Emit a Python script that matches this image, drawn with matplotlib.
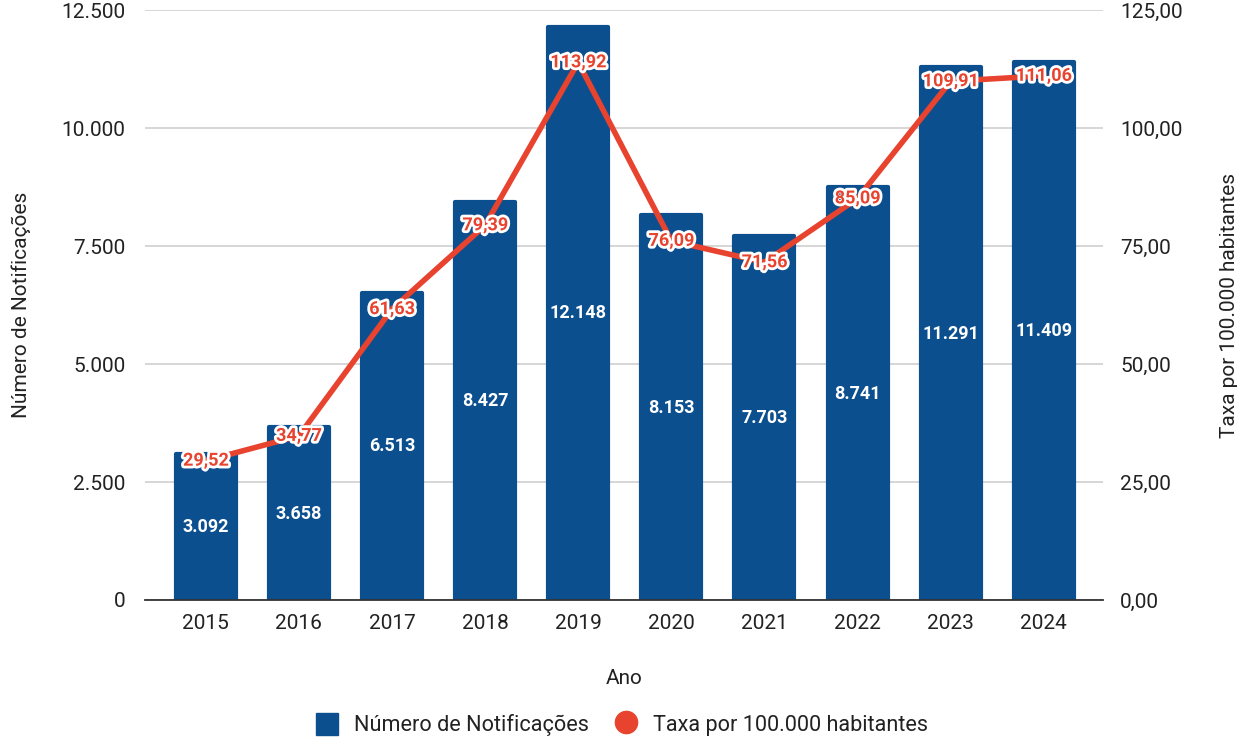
import matplotlib
matplotlib.use("Agg")
import matplotlib.pyplot as plt
import matplotlib.patheffects as pe
from matplotlib.ticker import FuncFormatter
from matplotlib.lines import Line2D
from matplotlib.patches import Patch

anos = ["2015", "2016", "2017", "2018", "2019", "2020", "2021", "2022", "2023", "2024"]
notificacoes = [3092, 3658, 6513, 8427, 12148, 8153, 7703, 8741, 11291, 11409]
taxa = [29.52, 34.77, 61.63, 79.39, 113.92, 76.09, 71.56, 85.09, 109.91, 111.06]

BLUE = "#0c4f8f"
RED = "#e8432f"

plt.rcParams['font.family'] = ['Roboto', 'DejaVu Sans']

fig = plt.figure(figsize=(12.37, 7.38), dpi=100)
ax = fig.add_axes([0.117, 0.187, 0.775, 0.7994])
ax2 = ax.twinx()

x = list(range(len(anos)))
bars = ax.bar(x, notificacoes, width=0.645, color=BLUE, edgecolor=BLUE,
              linewidth=3, joinstyle='round', zorder=2)

def fmt_int(v):
    return f"{int(round(v)):,}".replace(",", ".")

for xi, v in zip(x, notificacoes):
    ax.text(xi, v / 2, fmt_int(v), ha='center', va='center', color='white',
            fontsize=13, fontweight='bold', zorder=3)

ax.set_ylim(0, 12500)
ax.set_xlim(-0.655, 9.64)
ax.set_yticks([0, 2500, 5000, 7500, 10000, 12500])
ax.yaxis.set_major_formatter(FuncFormatter(lambda v, p: fmt_int(v)))
ax.grid(axis='y', color='#d0d0d0', linewidth=1.2, zorder=0)
ax.set_axisbelow(True)
ax.set_xticks(x)
ax.set_xticklabels(anos)
ax.tick_params(axis='both', length=0, labelsize=15, colors='#222222', pad=10)
ax.tick_params(axis='y', pad=14)
for s in ['top', 'right', 'left']:
    ax.spines[s].set_visible(False)
ax.spines['bottom'].set_color('#333333')
ax.spines['bottom'].set_linewidth(1.3)
ax.spines['bottom'].set_zorder(3)
ax.set_xlabel("Ano", fontsize=15, color='#222222', labelpad=26)
ax.set_ylabel("Número de Notificações", fontsize=15, color='#222222', labelpad=22)

ax2.plot(x, taxa, color=RED, linewidth=4, zorder=4, solid_joinstyle='round')
ax2.set_ylim(0, 125)
ax2.set_yticks([0, 25, 50, 75, 100, 125])
ax2.yaxis.set_major_formatter(FuncFormatter(lambda v, p: f"{v:.2f}".replace(".", ",")))
ax2.tick_params(axis='y', length=0, labelsize=15, colors='#222222', pad=12)
for s in ['top', 'right', 'left', 'bottom']:
    ax2.spines[s].set_visible(False)
ax2.set_ylabel("Taxa por 100.000 habitantes", fontsize=15, color='#222222', labelpad=27)

for xi, v in zip(x, taxa):
    ax2.text(xi, v, f"{v:.2f}".replace(".", ","), ha='center', va='center', color=RED,
             fontsize=13, fontweight='bold', zorder=5,
             path_effects=[pe.withStroke(linewidth=4, foreground='white')])

handles = [Patch(facecolor=BLUE, edgecolor=BLUE),
           Line2D([0], [0], marker='o', color='none', markerfacecolor=RED,
                  markeredgecolor=RED, markersize=16)]
fig.legend(handles, ["Número de Notificações", "Taxa por 100.000 habitantes"],
           loc='center', bbox_to_anchor=(0.503, 0.018), ncol=2, frameon=False,
           fontsize=15.6, handlelength=1.0, handleheight=1.2, columnspacing=1.2,
           handletextpad=0.75, labelcolor='#222222')

fig.savefig("out.png", dpi=100)
